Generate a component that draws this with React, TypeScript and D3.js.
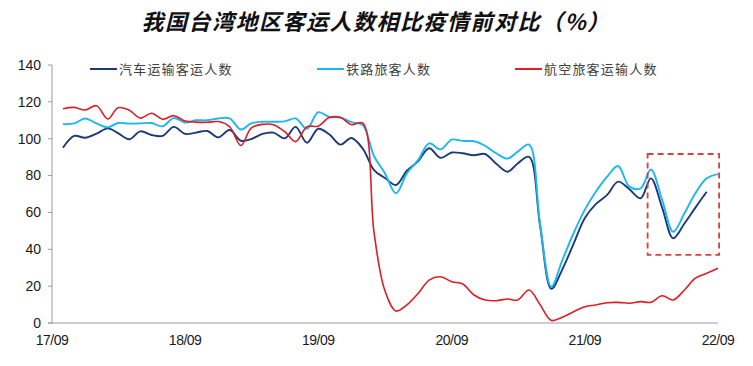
import { useEffect } from 'react';
import * as d3 from 'd3';

// monthly data, 17/10 .. 22/09 (bus series ends 22/08)
const firstMonth = new Date(2017, 9, 1);

const busPassengers = [
  95.1, 101.5, 100.5, 102.7, 105.6, 103, 99.7, 104, 102, 101.5, 106.4, 102.6,
  103.3, 104.2, 100.7, 104.7, 98.9, 99.8, 102.6, 103.3, 100.2, 106.4, 97.8, 105.4,
  102.4, 96.8, 100.4, 94.6, 83, 78.8, 74.9, 82.6, 87.8, 94.8, 89.6, 92.5,
  92.1, 91, 91.7, 86.4, 82.1, 86.6, 90.2, 53, 18.5, 29, 43, 57,
  64.5, 69.5, 76.7, 72.6, 67.7, 78.5, 62.5, 46, 54, 62.6, 71.2,
];

const railPassengers = [
  107.9, 108.3, 111, 108.3, 106.2, 108.5, 108.2, 108.3, 108.5, 106.7, 111.2, 108.8,
  110, 110, 111, 111, 105, 108.3, 109.2, 109.2, 109.4, 111, 105.4, 114.4,
  111.8, 111.5, 109, 107.4, 90.5, 81.5, 70.4, 81.2, 88.5, 97.5, 94.2, 99.5,
  98.8, 98.6, 96.2, 92.1, 89.2, 93, 96.8, 54, 19.7, 34, 48.7, 61.5,
  71.2, 79.4, 85.2, 74, 73.1, 83.3, 66.7, 49.5, 59.5, 70.4, 78.5, 80.8,
];

const airPassengers = [
  116.3, 117, 115.6, 117.9, 110.7, 116.8, 115.5, 111.2, 113.8, 110.6, 112.5, 109.6,
  109, 108.9, 109.3, 106.5, 96.3, 105.8, 107.8, 107.6, 103.8, 98.4, 106.5, 106.8,
  111.5, 111.5, 107.6, 108.5, 49, 18, 6.5, 9.8, 16.1, 23.3, 25.1, 22.4,
  21.2, 15.2, 12.5, 12.1, 13, 12.5, 17.9, 10, 1.4, 3.1, 6.1, 8.8,
  9.8, 11, 11.2, 10.7, 11.6, 11.2, 14.8, 12.5, 17.9, 24.3, 27, 29.7,
];

const seriesNames = ['汽车运输客运人数', '铁路旅客人数', '航空旅客运输人数'];
const seriesColors = ['#1d3a78', '#1cb6f0', '#dc1e25'];

const xTickDates = [
  new Date(2017, 8, 1), new Date(2018, 8, 1), new Date(2019, 8, 1),
  new Date(2020, 8, 1), new Date(2021, 8, 1), new Date(2022, 8, 1),
];
const xTickLabels = ['17/09', '18/09', '19/09', '20/09', '21/09', '22/09'];
const yTicks = [0, 20, 40, 60, 80, 100, 120, 140];

// highlighted window (dates / values)
const highlight = { from: new Date(2022, 1, 20), to: new Date(2022, 8, 4), low: 37, high: 91.7 };

const title = '我国台湾地区客运人数相比疫情前对比（%）';

const width = 753;
const height = 366;
const margin = { top: 65, right: 35, bottom: 43, left: 52 };

export default function App() {
  useEffect(() => {
    document.body.style.margin = '0';
    document.body.style.background = '#ffffff';
  }, []);

  const x = d3.scaleTime()
    .domain([xTickDates[0], xTickDates[xTickDates.length - 1]])
    .range([margin.left, width - margin.right]);

  const y = d3.scaleLinear()
    .domain([0, 140])
    .range([height - margin.bottom, margin.top]);

  const line = d3.line<number>()
    .x((_, i) => x(d3.timeMonth.offset(firstMonth, i)))
    .y(d => y(d))
    .curve(d3.curveCatmullRom.alpha(0.5));

  const allSeries = [busPassengers, railPassengers, airPassengers];
  const legendX = [90, 317, 515];

  return (
    <svg width={width} height={height} style={{ display: 'block', background: '#fff' }}>
      <text x={376} y={30} textAnchor="middle" fontFamily="'Noto Sans CJK SC', sans-serif"
        fontWeight="bold" fontStyle="italic" fontSize={22} letterSpacing={1.5} fill="#111">
        {title}
      </text>

      {/* y axis */}
      <line x1={margin.left} x2={margin.left} y1={y(140)} y2={y(0)} stroke="#9a9a9a" strokeWidth={1} />
      {yTicks.map(t => (
        <g key={t}>
          <line x1={margin.left - 4} x2={margin.left} y1={y(t)} y2={y(t)} stroke="#9a9a9a" />
          <text x={41} y={y(t)} dy="0.35em" textAnchor="end" fontFamily="'Liberation Sans', Arial, sans-serif"
            fontSize={14} fill="#1a1a1a">{t}</text>
        </g>
      ))}

      {/* x axis */}
      <line x1={margin.left - 4} x2={x(xTickDates[5])} y1={y(0)} y2={y(0)} stroke="#9a9a9a" strokeWidth={1} />
      {xTickDates.map((d, i) => (
        <text key={xTickLabels[i]} x={x(d)} y={345} textAnchor="middle"
          fontFamily="'Liberation Sans', Arial, sans-serif" fontSize={14} fill="#1a1a1a" letterSpacing={-0.5}>
          {xTickLabels[i]}
        </text>
      ))}

      {/* series */}
      {allSeries.map((s, i) => (
        <path key={seriesNames[i]} d={line(s) || ''} fill="none" stroke={seriesColors[i]}
          strokeWidth={i === 2 ? 1.6 : 1.9} strokeLinejoin="round" />
      ))}

      {/* highlight box */}
      <rect x={x(highlight.from)} y={y(highlight.high)}
        width={x(highlight.to) - x(highlight.from)} height={y(highlight.low) - y(highlight.high)}
        fill="none" stroke="#d9403f" strokeWidth={1.8} strokeDasharray="6,4" />

      {/* legend */}
      {seriesNames.map((name, i) => (
        <g key={name}>
          <line x1={legendX[i]} x2={legendX[i] + 27} y1={69} y2={69} stroke={seriesColors[i]} strokeWidth={2} />
          <text x={legendX[i] + 29} y={69} dy="0.35em" fontFamily="'Noto Sans CJK SC', sans-serif"
            fontSize={13} letterSpacing={1.2} fill="#404040">{name}</text>
        </g>
      ))}
    </svg>
  );
}
